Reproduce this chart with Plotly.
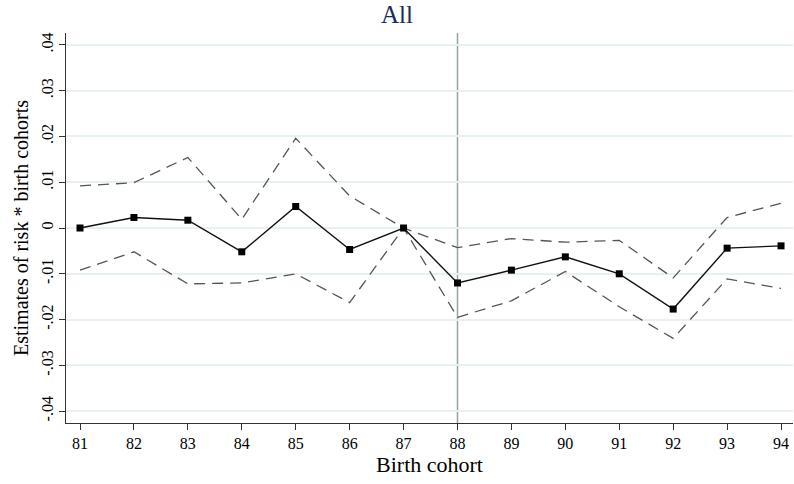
import plotly.graph_objects as go

cohorts = [81, 82, 83, 84, 85, 86, 87, 88, 89, 90, 91, 92, 93, 94]
estimate = [0.0, 0.0023, 0.0017, -0.0052, 0.0047, -0.0047, 0.0, -0.0120, -0.0092, -0.0063, -0.0100, -0.0177, -0.0044, -0.0039]
upper_ci = [0.0092, 0.0099, 0.0154, 0.0019, 0.0196, 0.0070, 0.0, -0.0043, -0.0023, -0.0031, -0.0027, -0.0109, 0.0023, 0.0054]
lower_ci = [-0.0092, -0.0052, -0.0122, -0.0120, -0.0100, -0.0163, 0.0, -0.0195, -0.0159, -0.0095, -0.0172, -0.0241, -0.0111, -0.0132]
y_tickvals = [-0.04, -0.03, -0.02, -0.01, 0, 0.01, 0.02, 0.03, 0.04]
y_ticktext = ["-.04", "-.03", "-.02", "-.01", "0", ".01", ".02", ".03", ".04"]
x_ticktext = [str(c) for c in cohorts]

FONT = "Liberation Serif, Times New Roman, serif"

fig = go.Figure()
fig.add_trace(go.Scatter(x=cohorts, y=upper_ci, mode="lines",
                         line=dict(color="#555555", width=1.3, dash="11px,7px"), showlegend=False))
fig.add_trace(go.Scatter(x=cohorts, y=lower_ci, mode="lines",
                         line=dict(color="#555555", width=1.3, dash="11px,7px"), showlegend=False))
fig.add_trace(go.Scatter(x=cohorts, y=estimate, mode="lines+markers",
                         line=dict(color="#111111", width=1.4),
                         marker=dict(symbol="square", size=7, color="black"), showlegend=False))

fig.add_shape(type="line", xref="paper", yref="y", x0=0, x1=1, y0=0, y1=0,
              line=dict(color="#8fa8a0", width=1.5), layer="below")
fig.add_shape(type="line", xref="x", yref="paper", x0=88, x1=88, y0=0, y1=1,
              line=dict(color="#8fa8a0", width=1.5), layer="below")

fig.update_layout(
    width=794, height=484,
    margin=dict(l=66, r=1, t=33, b=61, autoexpand=False),
    paper_bgcolor="white", plot_bgcolor="white",
    font=dict(family=FONT, color="black", size=16),
    title=dict(text="All", x=0.5, xanchor="center", xref="container",
               y=1 - 5 / 484, yanchor="top", yref="container",
               font=dict(family=FONT, size=25, color="#1c2b5a")),
    xaxis=dict(range=[80.74, 94.222], tickvals=cohorts, ticktext=x_ticktext,
               showgrid=False, zeroline=False, showline=True, linecolor="#333333", linewidth=1.2,
               ticks="outside", ticklen=6, tickcolor="#333333", automargin=False,
               tickfont=dict(family=FONT, size=16),
               title=dict(text="Birth cohort", font=dict(family=FONT, size=22), standoff=4)),
    yaxis=dict(range=[-0.04258, 0.04258], tickvals=y_tickvals, ticktext=y_ticktext,
               tickangle=-90, showgrid=True, gridcolor="#e8f1f2", gridwidth=1.5,
               zeroline=False, showline=True, linecolor="#333333", linewidth=1.2,
               ticks="outside", ticklen=6, tickcolor="#333333", automargin=False,
               tickfont=dict(family=FONT, size=16),
               title=dict(text="Estimates of risk * birth cohorts", font=dict(family=FONT, size=20), standoff=4)),
)

fig.write_html("out.html", config={"displayModeBar": False},
               post_script="document.body.style.margin='0';document.body.style.overflow='hidden';")
